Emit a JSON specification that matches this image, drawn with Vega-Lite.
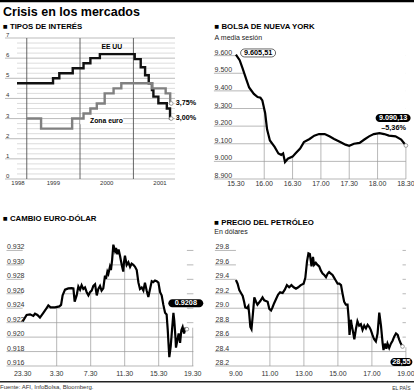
{
  "$schema": "https://vega.github.io/schema/vega-lite/v6.json",
  "autosize": {"type": "none"},
  "padding": {"left": 17, "top": 38, "right": 397, "bottom": 354},
  "background": "white",
  "columns": 2,
  "bounds": "flush",
  "spacing": {"row": 57, "column": 41.9},
  "config": {
    "view": {"stroke": null},
    "font": "Liberation Sans",
    "axis": {"disable": true},
    "title": {"font": "Liberation Sans", "fontSize": 7.8, "fontWeight": "bold", "color": "#000", "anchor": "start", "frame": "group", "subtitleFont": "Liberation Sans", "subtitleFontSize": 7, "subtitleColor": "#222"},
    "text": {"font": "Liberation Sans"}
  },
  "datasets": {
    "tipos": [
      {"serie": "EE UU", "fecha": "1998-10-26", "tipo": 4.75},
      {"serie": "EE UU", "fecha": "1999-06-30", "tipo": 5.0},
      {"serie": "EE UU", "fecha": "1999-08-12", "tipo": 5.25},
      {"serie": "EE UU", "fecha": "1999-11-12", "tipo": 5.5},
      {"serie": "EE UU", "fecha": "2000-01-25", "tipo": 5.75},
      {"serie": "EE UU", "fecha": "2000-03-12", "tipo": 6.0},
      {"serie": "EE UU", "fecha": "2000-05-16", "tipo": 6.2},
      {"serie": "EE UU", "fecha": "2001-01-10", "tipo": 5.95},
      {"serie": "EE UU", "fecha": "2001-02-20", "tipo": 5.55},
      {"serie": "EE UU", "fecha": "2001-03-22", "tipo": 5.15},
      {"serie": "EE UU", "fecha": "2001-04-16", "tipo": 4.75},
      {"serie": "EE UU", "fecha": "2001-05-08", "tipo": 4.42},
      {"serie": "EE UU", "fecha": "2001-05-18", "tipo": 4.09},
      {"serie": "EE UU", "fecha": "2001-06-21", "tipo": 3.76},
      {"serie": "EE UU", "fecha": "2001-08-18", "tipo": 3.5},
      {"serie": "EE UU", "fecha": "2001-09-09", "tipo": 3.0},
      {"serie": "EE UU", "fecha": "2001-09-17", "tipo": 3.0},
      {"serie": "Zona euro", "fecha": "1999-01-01", "tipo": 3.0},
      {"serie": "Zona euro", "fecha": "1999-04-09", "tipo": 2.5},
      {"serie": "Zona euro", "fecha": "1999-11-08", "tipo": 3.0},
      {"serie": "Zona euro", "fecha": "2000-01-25", "tipo": 3.25},
      {"serie": "Zona euro", "fecha": "2000-03-12", "tipo": 3.5},
      {"serie": "Zona euro", "fecha": "2000-04-25", "tipo": 3.75},
      {"serie": "Zona euro", "fecha": "2000-06-18", "tipo": 4.25},
      {"serie": "Zona euro", "fecha": "2000-08-18", "tipo": 4.5},
      {"serie": "Zona euro", "fecha": "2000-10-10", "tipo": 4.75},
      {"serie": "Zona euro", "fecha": "2001-05-10", "tipo": 4.5},
      {"serie": "Zona euro", "fecha": "2001-08-10", "tipo": 4.25},
      {"serie": "Zona euro", "fecha": "2001-09-10", "tipo": 3.75},
      {"serie": "Zona euro", "fecha": "2001-09-17", "tipo": 3.75}
    ],
    "anios": [{"fecha": "1999-01-01"}, {"fecha": "2000-01-01"}, {"fecha": "2001-01-01"}],
    "anios_etiquetas": [{"fecha": "1998-11-02"}, {"fecha": "1999-07-02"}, {"fecha": "2000-07-02"}, {"fecha": "2001-07-02"}],
    "tipos_rejilla": [
      {"tipo": 0}, {"tipo": 0.25}, {"tipo": 0.5}, {"tipo": 0.75}, {"tipo": 1}, {"tipo": 1.25}, {"tipo": 1.5}, {"tipo": 1.75},
      {"tipo": 2}, {"tipo": 2.25}, {"tipo": 2.5}, {"tipo": 2.75}, {"tipo": 3}, {"tipo": 3.25}, {"tipo": 3.5}, {"tipo": 3.75},
      {"tipo": 4}, {"tipo": 4.25}, {"tipo": 4.5}, {"tipo": 4.75}, {"tipo": 5}, {"tipo": 5.25}, {"tipo": 5.5}, {"tipo": 5.75},
      {"tipo": 6}, {"tipo": 6.25}, {"tipo": 6.5}, {"tipo": 6.75}, {"tipo": 7}
    ],
    "tipos_notas": [
      {"fecha": "2001-09-17", "tipo": 3.75, "texto": "3,75%"},
      {"fecha": "2001-09-17", "tipo": 3.0, "texto": "3,00%"},
      {"fecha": "2000-05-16", "tipo": 6.2, "texto": "EE UU"},
      {"fecha": "2000-01-25", "tipo": 3.25, "texto": "Zona euro"}
    ],
    "bolsa": [
      {"hora": "2001-09-17T15:30", "valor": 9605.51},
      {"hora": "2001-09-17T15:34", "valor": 9574},
      {"hora": "2001-09-17T15:37", "valor": 9529},
      {"hora": "2001-09-17T15:41", "valor": 9465},
      {"hora": "2001-09-17T15:44", "valor": 9419},
      {"hora": "2001-09-17T15:49", "valor": 9383},
      {"hora": "2001-09-17T15:53", "valor": 9365},
      {"hora": "2001-09-17T15:56", "valor": 9361},
      {"hora": "2001-09-17T15:58", "valor": 9346},
      {"hora": "2001-09-17T16:01", "valor": 9273},
      {"hora": "2001-09-17T16:03", "valor": 9182},
      {"hora": "2001-09-17T16:06", "valor": 9119},
      {"hora": "2001-09-17T16:11", "valor": 9082},
      {"hora": "2001-09-17T16:15", "valor": 9045},
      {"hora": "2001-09-17T16:18", "valor": 9037},
      {"hora": "2001-09-17T16:20", "valor": 9045},
      {"hora": "2001-09-17T16:22", "valor": 8996},
      {"hora": "2001-09-17T16:25", "valor": 9015},
      {"hora": "2001-09-17T16:30", "valor": 9027},
      {"hora": "2001-09-17T16:33", "valor": 9045},
      {"hora": "2001-09-17T16:38", "valor": 9073},
      {"hora": "2001-09-17T16:42", "valor": 9109},
      {"hora": "2001-09-17T16:48", "valor": 9127},
      {"hora": "2001-09-17T16:53", "valor": 9146},
      {"hora": "2001-09-17T16:58", "valor": 9155},
      {"hora": "2001-09-17T17:04", "valor": 9155},
      {"hora": "2001-09-17T17:09", "valor": 9142},
      {"hora": "2001-09-17T17:14", "valor": 9127},
      {"hora": "2001-09-17T17:21", "valor": 9109},
      {"hora": "2001-09-17T17:26", "valor": 9095},
      {"hora": "2001-09-17T17:30", "valor": 9088},
      {"hora": "2001-09-17T17:35", "valor": 9100},
      {"hora": "2001-09-17T17:41", "valor": 9105},
      {"hora": "2001-09-17T17:46", "valor": 9124},
      {"hora": "2001-09-17T17:51", "valor": 9142},
      {"hora": "2001-09-17T17:56", "valor": 9155},
      {"hora": "2001-09-17T18:02", "valor": 9160},
      {"hora": "2001-09-17T18:07", "valor": 9155},
      {"hora": "2001-09-17T18:12", "valor": 9146},
      {"hora": "2001-09-17T18:19", "valor": 9142},
      {"hora": "2001-09-17T18:25", "valor": 9124},
      {"hora": "2001-09-17T18:30", "valor": 9090.13}
    ],
    "bolsa_rejilla": [
      {"valor": 8900, "etiqueta": "8.900"}, {"valor": 9000, "etiqueta": "9.000"}, {"valor": 9100, "etiqueta": "9.100"}, {"valor": 9200, "etiqueta": "9.200"},
      {"valor": 9300, "etiqueta": "9.300"}, {"valor": 9400, "etiqueta": "9.400"}, {"valor": 9500, "etiqueta": "9.500"}, {"valor": 9600, "etiqueta": "9.600"}
    ],
    "bolsa_horas": [
      {"hora": "2001-09-17T15:30"}, {"hora": "2001-09-17T16:00"}, {"hora": "2001-09-17T16:30"}, {"hora": "2001-09-17T17:00"},
      {"hora": "2001-09-17T17:30"}, {"hora": "2001-09-17T18:00"}, {"hora": "2001-09-17T18:30"}
    ],
    "bolsa_marcas": [
      {"hora": "2001-09-17T16:00", "valor": 9300},
      {"hora": "2001-09-17T16:30", "valor": 9027},
      {"hora": "2001-09-17T17:00", "valor": 9155},
      {"hora": "2001-09-17T17:30", "valor": 9088},
      {"hora": "2001-09-17T18:00", "valor": 9160},
      {"hora": "2001-09-17T18:30", "valor": 9090.13}
    ],
    "bolsa_notas": [
      {"hora": "2001-09-17T15:30", "valor": 9605.51, "texto": "9.605,51"},
      {"hora": "2001-09-17T18:30", "valor": 9090.13, "texto": "9.090,13"},
      {"hora": "2001-09-17T18:30", "valor": 9090.13, "texto": "–5,36%"}
    ],
    "cambio": [
      {"hora": "2001-09-16T23:30", "cambio": 0.92218},
      {"hora": "2001-09-16T23:58", "cambio": 0.92307},
      {"hora": "2001-09-17T00:22", "cambio": 0.92315},
      {"hora": "2001-09-17T00:45", "cambio": 0.92293},
      {"hora": "2001-09-17T00:57", "cambio": 0.92324},
      {"hora": "2001-09-17T01:14", "cambio": 0.92307},
      {"hora": "2001-09-17T01:32", "cambio": 0.92271},
      {"hora": "2001-09-17T01:56", "cambio": 0.92337},
      {"hora": "2001-09-17T02:19", "cambio": 0.92403},
      {"hora": "2001-09-17T02:31", "cambio": 0.92438},
      {"hora": "2001-09-17T02:47", "cambio": 0.92412},
      {"hora": "2001-09-17T03:18", "cambio": 0.92412},
      {"hora": "2001-09-17T03:49", "cambio": 0.92425},
      {"hora": "2001-09-17T04:01", "cambio": 0.92446},
      {"hora": "2001-09-17T04:12", "cambio": 0.92578},
      {"hora": "2001-09-17T04:29", "cambio": 0.92657},
      {"hora": "2001-09-17T04:52", "cambio": 0.92675},
      {"hora": "2001-09-17T05:16", "cambio": 0.92679},
      {"hora": "2001-09-17T05:28", "cambio": 0.92675},
      {"hora": "2001-09-17T05:37", "cambio": 0.92491},
      {"hora": "2001-09-17T05:51", "cambio": 0.92578},
      {"hora": "2001-09-17T06:03", "cambio": 0.92701},
      {"hora": "2001-09-17T06:15", "cambio": 0.92657},
      {"hora": "2001-09-17T06:26", "cambio": 0.92718},
      {"hora": "2001-09-17T06:38", "cambio": 0.92666},
      {"hora": "2001-09-17T06:50", "cambio": 0.92688},
      {"hora": "2001-09-17T07:02", "cambio": 0.92622},
      {"hora": "2001-09-17T07:14", "cambio": 0.92578},
      {"hora": "2001-09-17T07:25", "cambio": 0.92622},
      {"hora": "2001-09-17T07:37", "cambio": 0.92644},
      {"hora": "2001-09-17T07:49", "cambio": 0.92709},
      {"hora": "2001-09-17T08:01", "cambio": 0.92732},
      {"hora": "2001-09-17T08:13", "cambio": 0.92578},
      {"hora": "2001-09-17T08:24", "cambio": 0.92666},
      {"hora": "2001-09-17T08:36", "cambio": 0.92709},
      {"hora": "2001-09-17T08:47", "cambio": 0.92644},
      {"hora": "2001-09-17T08:59", "cambio": 0.92675},
      {"hora": "2001-09-17T09:11", "cambio": 0.9285},
      {"hora": "2001-09-17T09:18", "cambio": 0.92806},
      {"hora": "2001-09-17T09:28", "cambio": 0.92907},
      {"hora": "2001-09-17T09:35", "cambio": 0.92876},
      {"hora": "2001-09-17T09:46", "cambio": 0.92973},
      {"hora": "2001-09-17T09:53", "cambio": 0.92929},
      {"hora": "2001-09-17T10:01", "cambio": 0.93061},
      {"hora": "2001-09-17T10:10", "cambio": 0.9328},
      {"hora": "2001-09-17T10:22", "cambio": 0.93192},
      {"hora": "2001-09-17T10:29", "cambio": 0.93236},
      {"hora": "2001-09-17T10:38", "cambio": 0.93148},
      {"hora": "2001-09-17T10:47", "cambio": 0.93214},
      {"hora": "2001-09-17T10:57", "cambio": 0.93126},
      {"hora": "2001-09-17T11:09", "cambio": 0.93},
      {"hora": "2001-09-17T11:20", "cambio": 0.92907},
      {"hora": "2001-09-17T11:25", "cambio": 0.93038},
      {"hora": "2001-09-17T11:32", "cambio": 0.93126},
      {"hora": "2001-09-17T11:44", "cambio": 0.93},
      {"hora": "2001-09-17T11:56", "cambio": 0.93038},
      {"hora": "2001-09-17T12:08", "cambio": 0.92973},
      {"hora": "2001-09-17T12:19", "cambio": 0.93017},
      {"hora": "2001-09-17T12:31", "cambio": 0.93},
      {"hora": "2001-09-17T12:43", "cambio": 0.92973},
      {"hora": "2001-09-17T12:55", "cambio": 0.92929},
      {"hora": "2001-09-17T13:07", "cambio": 0.92754},
      {"hora": "2001-09-17T13:18", "cambio": 0.92666},
      {"hora": "2001-09-17T13:30", "cambio": 0.92688},
      {"hora": "2001-09-17T13:42", "cambio": 0.92644},
      {"hora": "2001-09-17T13:53", "cambio": 0.92754},
      {"hora": "2001-09-17T14:05", "cambio": 0.92644},
      {"hora": "2001-09-17T14:17", "cambio": 0.92556},
      {"hora": "2001-09-17T14:29", "cambio": 0.92666},
      {"hora": "2001-09-17T14:41", "cambio": 0.92775},
      {"hora": "2001-09-17T14:52", "cambio": 0.92762},
      {"hora": "2001-09-17T15:04", "cambio": 0.92784},
      {"hora": "2001-09-17T15:16", "cambio": 0.92775},
      {"hora": "2001-09-17T15:28", "cambio": 0.92754},
      {"hora": "2001-09-17T15:40", "cambio": 0.92622},
      {"hora": "2001-09-17T15:51", "cambio": 0.92578},
      {"hora": "2001-09-17T16:03", "cambio": 0.92446},
      {"hora": "2001-09-17T16:15", "cambio": 0.92337},
      {"hora": "2001-09-17T16:26", "cambio": 0.92315},
      {"hora": "2001-09-17T16:34", "cambio": 0.92096},
      {"hora": "2001-09-17T16:41", "cambio": 0.91854},
      {"hora": "2001-09-17T16:45", "cambio": 0.91723},
      {"hora": "2001-09-17T16:55", "cambio": 0.91876},
      {"hora": "2001-09-17T17:04", "cambio": 0.92096},
      {"hora": "2001-09-17T17:14", "cambio": 0.92337},
      {"hora": "2001-09-17T17:20", "cambio": 0.92227},
      {"hora": "2001-09-17T17:28", "cambio": 0.92008},
      {"hora": "2001-09-17T17:32", "cambio": 0.91854},
      {"hora": "2001-09-17T17:42", "cambio": 0.9196},
      {"hora": "2001-09-17T17:51", "cambio": 0.92051},
      {"hora": "2001-09-17T18:01", "cambio": 0.9192},
      {"hora": "2001-09-17T18:10", "cambio": 0.92096},
      {"hora": "2001-09-17T18:19", "cambio": 0.9214},
      {"hora": "2001-09-17T18:29", "cambio": 0.92051},
      {"hora": "2001-09-17T18:38", "cambio": 0.92117},
      {"hora": "2001-09-17T18:49", "cambio": 0.9211}
    ],
    "cambio_rejilla": [
      {"cambio": 0.916}, {"cambio": 0.918}, {"cambio": 0.92}, {"cambio": 0.922}, {"cambio": 0.924},
      {"cambio": 0.926}, {"cambio": 0.928}, {"cambio": 0.93}, {"cambio": 0.932}
    ],
    "cambio_horas": [
      {"hora": "2001-09-16T23:30"}, {"hora": "2001-09-17T03:30"}, {"hora": "2001-09-17T07:30"},
      {"hora": "2001-09-17T11:30"}, {"hora": "2001-09-17T15:30"}, {"hora": "2001-09-17T19:30"}
    ],
    "cambio_marcas": [
      {"hora": "2001-09-17T03:30", "cambio": 0.9242},
      {"hora": "2001-09-17T07:30", "cambio": 0.9263},
      {"hora": "2001-09-17T11:30", "cambio": 0.9305},
      {"hora": "2001-09-17T15:30", "cambio": 0.9275},
      {"hora": "2001-09-17T19:30", "cambio": 0.9213}
    ],
    "cambio_notas": [
      {"hora": "2001-09-17T18:49", "cambio": 0.9211, "texto": "0.9208"}
    ],
    "petroleo": [
      {"hora": "2001-09-17T09:00", "precio": 29.39},
      {"hora": "2001-09-17T09:06", "precio": 29.34},
      {"hora": "2001-09-17T09:12", "precio": 29.25},
      {"hora": "2001-09-17T09:18", "precio": 29.21},
      {"hora": "2001-09-17T09:24", "precio": 29.17},
      {"hora": "2001-09-17T09:29", "precio": 29.09},
      {"hora": "2001-09-17T09:33", "precio": 29.01},
      {"hora": "2001-09-17T09:39", "precio": 29.0},
      {"hora": "2001-09-17T09:44", "precio": 29.03},
      {"hora": "2001-09-17T09:47", "precio": 28.92},
      {"hora": "2001-09-17T09:51", "precio": 28.74},
      {"hora": "2001-09-17T09:55", "precio": 28.71},
      {"hora": "2001-09-17T10:00", "precio": 28.92},
      {"hora": "2001-09-17T10:05", "precio": 29.15},
      {"hora": "2001-09-17T10:11", "precio": 29.09},
      {"hora": "2001-09-17T10:16", "precio": 29.05},
      {"hora": "2001-09-17T10:26", "precio": 29.1},
      {"hora": "2001-09-17T10:34", "precio": 29.15},
      {"hora": "2001-09-17T10:40", "precio": 29.11},
      {"hora": "2001-09-17T10:46", "precio": 29.1},
      {"hora": "2001-09-17T10:52", "precio": 29.09},
      {"hora": "2001-09-17T10:58", "precio": 28.99},
      {"hora": "2001-09-17T11:04", "precio": 28.97},
      {"hora": "2001-09-17T11:09", "precio": 29.01},
      {"hora": "2001-09-17T11:15", "precio": 29.07},
      {"hora": "2001-09-17T11:21", "precio": 29.12},
      {"hora": "2001-09-17T11:29", "precio": 29.19},
      {"hora": "2001-09-17T11:36", "precio": 29.22},
      {"hora": "2001-09-17T11:45", "precio": 29.21},
      {"hora": "2001-09-17T11:53", "precio": 29.26},
      {"hora": "2001-09-17T12:00", "precio": 29.32},
      {"hora": "2001-09-17T12:08", "precio": 29.29},
      {"hora": "2001-09-17T12:16", "precio": 29.32},
      {"hora": "2001-09-17T12:24", "precio": 29.29},
      {"hora": "2001-09-17T12:32", "precio": 29.27},
      {"hora": "2001-09-17T12:40", "precio": 29.29},
      {"hora": "2001-09-17T12:49", "precio": 29.32},
      {"hora": "2001-09-17T12:59", "precio": 29.34},
      {"hora": "2001-09-17T13:05", "precio": 29.42},
      {"hora": "2001-09-17T13:11", "precio": 29.65},
      {"hora": "2001-09-17T13:16", "precio": 29.76},
      {"hora": "2001-09-17T13:21", "precio": 29.75},
      {"hora": "2001-09-17T13:27", "precio": 29.58},
      {"hora": "2001-09-17T13:32", "precio": 29.71},
      {"hora": "2001-09-17T13:36", "precio": 29.6},
      {"hora": "2001-09-17T13:42", "precio": 29.63},
      {"hora": "2001-09-17T13:48", "precio": 29.6},
      {"hora": "2001-09-17T13:54", "precio": 29.58},
      {"hora": "2001-09-17T14:00", "precio": 29.52},
      {"hora": "2001-09-17T14:06", "precio": 29.48},
      {"hora": "2001-09-17T14:12", "precio": 29.46},
      {"hora": "2001-09-17T14:18", "precio": 29.43},
      {"hora": "2001-09-17T14:24", "precio": 29.48},
      {"hora": "2001-09-17T14:29", "precio": 29.5},
      {"hora": "2001-09-17T14:35", "precio": 29.48},
      {"hora": "2001-09-17T14:41", "precio": 29.46},
      {"hora": "2001-09-17T14:47", "precio": 29.42},
      {"hora": "2001-09-17T14:53", "precio": 29.38},
      {"hora": "2001-09-17T14:59", "precio": 29.34},
      {"hora": "2001-09-17T15:05", "precio": 29.34},
      {"hora": "2001-09-17T15:11", "precio": 29.32},
      {"hora": "2001-09-17T15:16", "precio": 29.21},
      {"hora": "2001-09-17T15:22", "precio": 29.09},
      {"hora": "2001-09-17T15:28", "precio": 29.05},
      {"hora": "2001-09-17T15:34", "precio": 29.05},
      {"hora": "2001-09-17T15:38", "precio": 28.86},
      {"hora": "2001-09-17T15:41", "precio": 28.63},
      {"hora": "2001-09-17T15:46", "precio": 28.84},
      {"hora": "2001-09-17T15:49", "precio": 28.76},
      {"hora": "2001-09-17T15:53", "precio": 28.68},
      {"hora": "2001-09-17T15:58", "precio": 28.57},
      {"hora": "2001-09-17T16:04", "precio": 28.72},
      {"hora": "2001-09-17T16:09", "precio": 28.82},
      {"hora": "2001-09-17T16:15", "precio": 28.76},
      {"hora": "2001-09-17T16:21", "precio": 28.78},
      {"hora": "2001-09-17T16:27", "precio": 28.7},
      {"hora": "2001-09-17T16:33", "precio": 28.76},
      {"hora": "2001-09-17T16:39", "precio": 28.72},
      {"hora": "2001-09-17T16:45", "precio": 28.77},
      {"hora": "2001-09-17T16:51", "precio": 28.74},
      {"hora": "2001-09-17T16:56", "precio": 28.7},
      {"hora": "2001-09-17T17:02", "precio": 28.63},
      {"hora": "2001-09-17T17:08", "precio": 28.57},
      {"hora": "2001-09-17T17:14", "precio": 28.54},
      {"hora": "2001-09-17T17:20", "precio": 28.65},
      {"hora": "2001-09-17T17:26", "precio": 28.94},
      {"hora": "2001-09-17T17:32", "precio": 28.76},
      {"hora": "2001-09-17T17:38", "precio": 28.51},
      {"hora": "2001-09-17T17:41", "precio": 28.42},
      {"hora": "2001-09-17T17:46", "precio": 28.51},
      {"hora": "2001-09-17T17:51", "precio": 28.44},
      {"hora": "2001-09-17T17:55", "precio": 28.51},
      {"hora": "2001-09-17T18:01", "precio": 28.45},
      {"hora": "2001-09-17T18:07", "precio": 28.51},
      {"hora": "2001-09-17T18:13", "precio": 28.55},
      {"hora": "2001-09-17T18:19", "precio": 28.61},
      {"hora": "2001-09-17T18:25", "precio": 28.65},
      {"hora": "2001-09-17T18:31", "precio": 28.63},
      {"hora": "2001-09-17T18:36", "precio": 28.57},
      {"hora": "2001-09-17T18:42", "precio": 28.51},
      {"hora": "2001-09-17T18:48", "precio": 28.47}
    ],
    "petroleo_rejilla": [
      {"precio": 28.2}, {"precio": 28.4}, {"precio": 28.6}, {"precio": 28.8}, {"precio": 29.0},
      {"precio": 29.2}, {"precio": 29.4}, {"precio": 29.6}, {"precio": 29.8}
    ],
    "petroleo_horas": [
      {"hora": "2001-09-17T09:00"}, {"hora": "2001-09-17T11:00"}, {"hora": "2001-09-17T13:00"},
      {"hora": "2001-09-17T15:00"}, {"hora": "2001-09-17T17:00"}, {"hora": "2001-09-17T19:00"}
    ],
    "petroleo_marcas": [
      {"hora": "2001-09-17T11:00", "precio": 28.98},
      {"hora": "2001-09-17T13:00", "precio": 29.35},
      {"hora": "2001-09-17T15:00", "precio": 29.34},
      {"hora": "2001-09-17T17:00", "precio": 28.65},
      {"hora": "2001-09-17T19:00", "precio": 28.46}
    ],
    "petroleo_notas": [
      {"hora": "2001-09-17T18:48", "precio": 28.47, "texto": "28,55"}
    ],
    "pie_izquierda": [{"texto": "Fuente: AFI, InfoBolsa, Bloomberg."}],
    "pie_derecha": [{"texto": "EL PAÍS"}]
  },
  "concat": [
    {
      "width": 158,
      "height": 141,
      "title": {"text": "Crisis en los mercados", "fontSize": 12.5, "subtitle": "■ TIPOS DE INTERÉS", "subtitleFontWeight": "bold", "subtitleFontSize": 7.8, "subtitleColor": "#000", "subtitlePadding": 4.5, "dx": -14, "offset": -31.5},
      "layer": [
        {
          "data": {"name": "tipos_rejilla"},
          "transform": [{"filter": "datum.tipo % 1 !== 0"}],
          "mark": {"type": "rule", "color": "#c4c4c4", "strokeWidth": 0.6},
          "encoding": {
            "x": {"datum": {"year": 1998, "month": 10, "date": 26}, "type": "temporal", "axis": null,
              "scale": {"domain": [{"year": 1998, "month": 10, "date": 26}, {"year": 2001, "month": 10, "date": 13}]}},
            "x2": {"datum": {"year": 2001, "month": 10, "date": 13}},
            "y": {"field": "tipo", "type": "quantitative", "axis": null, "scale": {"domain": [0, 7]}}
          }
        },
        {
          "data": {"name": "tipos_rejilla"},
          "transform": [{"filter": "datum.tipo % 1 === 0"}],
          "mark": {"type": "rule", "color": "#8f8f8f", "strokeWidth": 0.6, "xOffset": -12},
          "encoding": {
            "x": {"datum": {"year": 1998, "month": 10, "date": 26}, "type": "temporal"},
            "x2": {"datum": {"year": 2001, "month": 10, "date": 13}},
            "y": {"field": "tipo", "type": "quantitative"}
          }
        },
        {
          "data": {"name": "anios"},
          "mark": {"type": "rule", "color": "#555", "strokeWidth": 0.9},
          "encoding": {
            "x": {"field": "fecha", "type": "temporal"}
          }
        },
        {
          "data": {"name": "tipos_notas"},
          "transform": [{"filter": "datum.texto === 'Zona euro'"}],
          "mark": {"type": "point", "shape": "M-1,-0.163L1,-0.163L1,0.163L-1,0.163Z", "filled": true, "fill": "white", "stroke": null, "opacity": 1, "size": 1849, "xOffset": 18.2, "yOffset": 7.2},
          "encoding": {
            "x": {"field": "fecha", "type": "temporal"},
            "y": {"field": "tipo", "type": "quantitative"}
          }
        },
        {
          "data": {"name": "tipos"},
          "mark": {"type": "line", "interpolate": "step-after", "strokeWidth": 2.4},
          "encoding": {
            "x": {"field": "fecha", "type": "temporal"},
            "y": {"field": "tipo", "type": "quantitative"},
            "color": {"field": "serie", "type": "nominal", "scale": {"domain": ["EE UU", "Zona euro"], "range": ["#111111", "#808080"]}, "legend": null}
          }
        },
        {
          "data": {"name": "tipos_notas"},
          "transform": [{"filter": "datum.texto === '3,75%' || datum.texto === '3,00%'"}],
          "mark": {"type": "point", "filled": true, "fill": "white", "stroke": "#888", "strokeWidth": 0.8, "size": 14, "opacity": 1},
          "encoding": {
            "x": {"field": "fecha", "type": "temporal"},
            "y": {"field": "tipo", "type": "quantitative"}
          }
        },
        {
          "data": {"name": "tipos_notas"},
          "transform": [{"filter": "datum.texto === '3,75%' || datum.texto === '3,00%'"}],
          "mark": {"type": "text", "align": "left", "baseline": "middle", "fontWeight": "bold", "fontSize": 7.2, "dx": 4.6, "dy": -0.6, "color": "#000"},
          "encoding": {
            "x": {"field": "fecha", "type": "temporal"},
            "y": {"field": "tipo", "type": "quantitative"},
            "text": {"field": "texto"}
          }
        },
        {
          "data": {"name": "tipos_notas"},
          "transform": [{"filter": "datum.texto === 'EE UU'"}],
          "mark": {"type": "text", "align": "center", "baseline": "middle", "fontWeight": "bold", "fontSize": 6.8, "dx": 11.9, "dy": -7.4, "color": "#000"},
          "encoding": {
            "x": {"field": "fecha", "type": "temporal"},
            "y": {"field": "tipo", "type": "quantitative"},
            "text": {"field": "texto"}
          }
        },
        {
          "data": {"name": "tipos_notas"},
          "transform": [{"filter": "datum.texto === 'Zona euro'"}],
          "mark": {"type": "text", "align": "left", "baseline": "middle", "fontWeight": "bold", "fontSize": 6.8, "dx": 6.5, "dy": 7.5, "color": "#000"},
          "encoding": {
            "x": {"field": "fecha", "type": "temporal"},
            "y": {"field": "tipo", "type": "quantitative"},
            "text": {"field": "texto"}
          }
        },
        {
          "data": {"name": "tipos_rejilla"},
          "transform": [{"filter": "datum.tipo % 1 === 0"}],
          "mark": {"type": "text", "align": "left", "baseline": "bottom", "dx": -11, "fontSize": 6, "color": "#333"},
          "encoding": {
            "x": {"datum": {"year": 1998, "month": 10, "date": 26}, "type": "temporal"},
            "y": {"field": "tipo", "type": "quantitative"},
            "text": {"field": "tipo", "type": "quantitative", "format": "d"}
          }
        },
        {
          "data": {"name": "anios_etiquetas"},
          "mark": {"type": "text", "align": "center", "baseline": "top", "dy": 1.1, "fontSize": 6, "color": "#333"},
          "encoding": {
            "x": {"field": "fecha", "type": "temporal"},
            "y": {"datum": 0, "type": "quantitative"},
            "text": {"field": "fecha", "type": "temporal", "format": "%Y"}
          }
        },
        {
          "data": {"values": [{}]},
          "mark": {"type": "rule", "color": "#000", "strokeWidth": 2.5},
          "encoding": {
            "x": {"datum": {"year": 1998, "month": 6, "date": 1}, "type": "temporal"},
            "x2": {"datum": {"year": 2006, "month": 6, "date": 1}},
            "y": {"datum": 8.84, "type": "quantitative"}
          }
        }
      ]
    },
    {
      "width": 170,
      "height": 141,
      "title": {"text": "■ BOLSA DE NUEVA YORK", "subtitle": "A media sesión", "subtitlePadding": 3.3, "dx": -21.3, "offset": -2.7},
      "layer": [
        {
          "data": {"name": "bolsa_rejilla"},
          "mark": {"type": "rule", "color": "#999999", "strokeWidth": 0.7, "xOffset": -22},
          "encoding": {
            "x": {"datum": {"year": 2001, "month": 9, "date": 17, "hours": 15, "minutes": 30}, "type": "temporal", "axis": null,
              "scale": {"domain": [{"year": 2001, "month": 9, "date": 17, "hours": 15, "minutes": 30}, {"year": 2001, "month": 9, "date": 17, "hours": 18, "minutes": 30}]}},
            "x2": {"datum": {"year": 2001, "month": 9, "date": 17, "hours": 18, "minutes": 30}},
            "y": {"field": "valor", "type": "quantitative", "axis": null, "scale": {"domain": [8900, 9666]}}
          }
        },
        {
          "data": {"name": "bolsa"},
          "mark": {"type": "area", "color": "white", "fill": "white", "opacity": 1, "fillOpacity": 1, "orient": "vertical"},
          "encoding": {
            "x": {"field": "hora", "type": "temporal"},
            "y": {"field": "valor", "type": "quantitative", "stack": null},
            "y2": {"datum": 9666}
          }
        },
        {
          "data": {"name": "bolsa_marcas"},
          "mark": {"type": "rule", "color": "#999999", "strokeWidth": 0.7},
          "encoding": {
            "x": {"field": "hora", "type": "temporal"},
            "y": {"field": "valor", "type": "quantitative"},
            "y2": {"datum": 8900}
          }
        },
        {
          "data": {"name": "bolsa"},
          "mark": {"type": "line", "color": "#000", "strokeWidth": 2.2},
          "encoding": {
            "x": {"field": "hora", "type": "temporal"},
            "y": {"field": "valor", "type": "quantitative"}
          }
        },
        {
          "data": {"name": "bolsa_notas"},
          "transform": [{"filter": "datum.texto === '9.090,13'"}],
          "mark": {"type": "point", "filled": true, "fill": "white", "stroke": "#888", "strokeWidth": 0.8, "size": 14, "opacity": 1},
          "encoding": {
            "x": {"field": "hora", "type": "temporal"},
            "y": {"field": "valor", "type": "quantitative"}
          }
        },
        {
          "data": {"name": "bolsa_notas"},
          "transform": [{"filter": "datum.texto === '9.605,51'"}],
          "mark": {"type": "point", "shape": "M-0.771,-0.229L0.771,-0.229A0.229,0.229,0,0,1,0.771,0.229L-0.771,0.229A0.229,0.229,0,0,1,-0.771,-0.229Z", "filled": true, "fill": "white", "stroke": "#000", "strokeWidth": 0.6, "opacity": 1, "size": 1225, "xOffset": 22.2, "yOffset": -1.7},
          "encoding": {
            "x": {"field": "hora", "type": "temporal"},
            "y": {"field": "valor", "type": "quantitative"}
          }
        },
        {
          "data": {"name": "bolsa_notas"},
          "transform": [{"filter": "datum.texto === '9.090,13'"}],
          "mark": {"type": "point", "shape": "M-0.771,-0.229L0.771,-0.229A0.229,0.229,0,0,1,0.771,0.229L-0.771,0.229A0.229,0.229,0,0,1,-0.771,-0.229Z", "filled": true, "fill": "#000", "stroke": null, "opacity": 1, "size": 1225, "xOffset": -12.8, "yOffset": -27.5},
          "encoding": {
            "x": {"field": "hora", "type": "temporal"},
            "y": {"field": "valor", "type": "quantitative"}
          }
        },
        {
          "data": {"name": "bolsa_notas"},
          "transform": [{"filter": "datum.texto === '9.605,51'"}],
          "mark": {"type": "text", "align": "center", "baseline": "middle", "fontWeight": "bold", "fontSize": 7.3, "dx": 22.2, "dy": -1.7, "color": "#000"},
          "encoding": {
            "x": {"field": "hora", "type": "temporal"},
            "y": {"field": "valor", "type": "quantitative"},
            "text": {"field": "texto"}
          }
        },
        {
          "data": {"name": "bolsa_notas"},
          "transform": [{"filter": "datum.texto === '9.090,13'"}],
          "mark": {"type": "text", "align": "center", "baseline": "middle", "fontWeight": "bold", "fontSize": 7.3, "dx": -12.8, "dy": -27.5, "color": "#fff"},
          "encoding": {
            "x": {"field": "hora", "type": "temporal"},
            "y": {"field": "valor", "type": "quantitative"},
            "text": {"field": "texto"}
          }
        },
        {
          "data": {"name": "bolsa_notas"},
          "transform": [{"filter": "datum.texto === '–5,36%'"}],
          "mark": {"type": "text", "align": "center", "baseline": "middle", "fontWeight": "bold", "fontSize": 7.3, "dx": -12.3, "dy": -17.5, "color": "#000"},
          "encoding": {
            "x": {"field": "hora", "type": "temporal"},
            "y": {"field": "valor", "type": "quantitative"},
            "text": {"field": "texto"}
          }
        },
        {
          "data": {"name": "bolsa_rejilla"},
          "mark": {"type": "text", "align": "left", "baseline": "bottom", "dx": -21.3, "fontSize": 7, "color": "#333"},
          "encoding": {
            "x": {"datum": {"year": 2001, "month": 9, "date": 17, "hours": 15, "minutes": 30}, "type": "temporal"},
            "y": {"field": "valor", "type": "quantitative"},
            "text": {"field": "etiqueta"}
          }
        },
        {
          "data": {"name": "bolsa_horas"},
          "mark": {"type": "text", "align": "center", "baseline": "top", "dy": 0.7, "fontSize": 7, "color": "#333"},
          "encoding": {
            "x": {"field": "hora", "type": "temporal"},
            "y": {"datum": 8900, "type": "quantitative"},
            "text": {"field": "hora", "type": "temporal", "format": "%-H.%M"}
          }
        }
      ]
    },
    {
      "width": 176.4,
      "height": 130,
      "title": {"text": "■ CAMBIO EURO-DÓLAR", "dx": -14, "offset": 13.7},
      "layer": [
        {
          "data": {"name": "cambio_rejilla"},
          "mark": {"type": "rule", "color": "#999999", "strokeWidth": 0.7, "xOffset": -10.5},
          "encoding": {
            "x": {"datum": {"year": 2001, "month": 9, "date": 16, "hours": 22, "minutes": 50}, "type": "temporal", "axis": null,
              "scale": {"domain": [{"year": 2001, "month": 9, "date": 16, "hours": 22, "minutes": 50}, {"year": 2001, "month": 9, "date": 17, "hours": 19, "minutes": 35}]}},
            "x2": {"datum": {"year": 2001, "month": 9, "date": 17, "hours": 19, "minutes": 35}},
            "y": {"field": "cambio", "type": "quantitative", "axis": null, "scale": {"domain": [0.916, 0.9331]}}
          }
        },
        {
          "data": {"name": "cambio"},
          "mark": {"type": "area", "color": "white", "fill": "white", "opacity": 1, "fillOpacity": 1, "orient": "vertical"},
          "encoding": {
            "x": {"field": "hora", "type": "temporal"},
            "y": {"field": "cambio", "type": "quantitative", "stack": null},
            "y2": {"datum": 0.9331}
          }
        },
        {
          "data": {"name": "cambio_marcas"},
          "mark": {"type": "rule", "color": "#999999", "strokeWidth": 0.7},
          "encoding": {
            "x": {"field": "hora", "type": "temporal"},
            "y": {"field": "cambio", "type": "quantitative"},
            "y2": {"datum": 0.916}
          }
        },
        {
          "data": {"name": "cambio"},
          "mark": {"type": "line", "color": "#000", "strokeWidth": 2.2},
          "encoding": {
            "x": {"field": "hora", "type": "temporal"},
            "y": {"field": "cambio", "type": "quantitative"}
          }
        },
        {
          "data": {"name": "cambio_notas"},
          "mark": {"type": "point", "filled": true, "fill": "white", "stroke": "#888", "strokeWidth": 0.8, "size": 14, "opacity": 1},
          "encoding": {
            "x": {"field": "hora", "type": "temporal"},
            "y": {"field": "cambio", "type": "quantitative"}
          }
        },
        {
          "data": {"name": "cambio_notas"},
          "mark": {"type": "point", "shape": "M-0.771,-0.229L0.771,-0.229A0.229,0.229,0,0,1,0.771,0.229L-0.771,0.229A0.229,0.229,0,0,1,-0.771,-0.229Z", "filled": true, "fill": "#000", "stroke": null, "opacity": 1, "size": 1225, "xOffset": -1.1, "yOffset": -26},
          "encoding": {
            "x": {"field": "hora", "type": "temporal"},
            "y": {"field": "cambio", "type": "quantitative"}
          }
        },
        {
          "data": {"name": "cambio_notas"},
          "mark": {"type": "text", "align": "center", "baseline": "middle", "fontWeight": "bold", "fontSize": 7.3, "dx": -1.1, "dy": -26, "color": "#fff"},
          "encoding": {
            "x": {"field": "hora", "type": "temporal"},
            "y": {"field": "cambio", "type": "quantitative"},
            "text": {"field": "texto"}
          }
        },
        {
          "data": {"name": "cambio_rejilla"},
          "mark": {"type": "text", "align": "left", "baseline": "bottom", "dx": -10, "fontSize": 7, "color": "#333"},
          "encoding": {
            "x": {"datum": {"year": 2001, "month": 9, "date": 16, "hours": 22, "minutes": 50}, "type": "temporal"},
            "y": {"field": "cambio", "type": "quantitative"},
            "text": {"field": "cambio", "type": "quantitative", "format": ".3f"}
          }
        },
        {
          "data": {"name": "cambio_horas"},
          "mark": {"type": "text", "align": "center", "baseline": "top", "dy": 4, "fontSize": 7, "color": "#333"},
          "encoding": {
            "x": {"field": "hora", "type": "temporal"},
            "y": {"datum": 0.916, "type": "quantitative"},
            "text": {"field": "hora", "type": "temporal", "format": "%-H.%M"}
          }
        },
        {
          "data": {"values": [{}]},
          "mark": {"type": "rule", "color": "#222", "strokeWidth": 1.5},
          "encoding": {
            "x": {"datum": {"year": 2001, "month": 9, "date": 16, "hours": 20, "minutes": 50}, "type": "temporal"},
            "x2": {"datum": {"year": 2001, "month": 9, "date": 18, "hours": 21, "minutes": 32}},
            "y": {"datum": 0.91383, "type": "quantitative"}
          }
        },
        {
          "data": {"name": "pie_izquierda"},
          "mark": {"type": "text", "align": "left", "baseline": "alphabetic", "dx": -17, "dy": 22.8, "fontSize": 6, "color": "#333"},
          "encoding": {
            "x": {"datum": {"year": 2001, "month": 9, "date": 16, "hours": 22, "minutes": 50}, "type": "temporal"},
            "y": {"datum": 0.916, "type": "quantitative"},
            "text": {"field": "texto"}
          }
        }
      ]
    },
    {
      "width": 170,
      "height": 130,
      "title": {"text": "■ PRECIO DEL PETRÓLEO", "subtitle": "En dólares", "subtitlePadding": 1.1, "dx": -21.6, "offset": 1.1},
      "layer": [
        {
          "data": {"name": "petroleo_rejilla"},
          "mark": {"type": "rule", "color": "#999999", "strokeWidth": 0.7, "xOffset": -21},
          "encoding": {
            "x": {"datum": {"year": 2001, "month": 9, "date": 17, "hours": 9, "minutes": 0}, "type": "temporal", "axis": null,
              "scale": {"domain": [{"year": 2001, "month": 9, "date": 17, "hours": 9, "minutes": 0}, {"year": 2001, "month": 9, "date": 17, "hours": 19, "minutes": 0}]}},
            "x2": {"datum": {"year": 2001, "month": 9, "date": 17, "hours": 19, "minutes": 0}},
            "y": {"field": "precio", "type": "quantitative", "axis": null, "scale": {"domain": [28.2, 29.815]}}
          }
        },
        {
          "data": {"name": "petroleo"},
          "mark": {"type": "area", "color": "white", "fill": "white", "opacity": 1, "fillOpacity": 1, "orient": "vertical"},
          "encoding": {
            "x": {"field": "hora", "type": "temporal"},
            "y": {"field": "precio", "type": "quantitative", "stack": null},
            "y2": {"datum": 29.815}
          }
        },
        {
          "data": {"name": "petroleo_marcas"},
          "mark": {"type": "rule", "color": "#999999", "strokeWidth": 0.7},
          "encoding": {
            "x": {"field": "hora", "type": "temporal"},
            "y": {"field": "precio", "type": "quantitative"},
            "y2": {"datum": 28.2}
          }
        },
        {
          "data": {"name": "petroleo"},
          "mark": {"type": "line", "color": "#000", "strokeWidth": 2.2},
          "encoding": {
            "x": {"field": "hora", "type": "temporal"},
            "y": {"field": "precio", "type": "quantitative"}
          }
        },
        {
          "data": {"name": "petroleo_notas"},
          "mark": {"type": "point", "filled": true, "fill": "white", "stroke": "#888", "strokeWidth": 0.8, "size": 14, "opacity": 1},
          "encoding": {
            "x": {"field": "hora", "type": "temporal"},
            "y": {"field": "precio", "type": "quantitative"}
          }
        },
        {
          "data": {"name": "petroleo_notas"},
          "mark": {"type": "point", "shape": "M-0.636,-0.364L0.636,-0.364A0.364,0.364,0,0,1,0.636,0.364L-0.636,0.364A0.364,0.364,0,0,1,-0.636,-0.364Z", "filled": true, "fill": "#000", "stroke": null, "opacity": 1, "size": 484, "xOffset": -1.1, "yOffset": 15.4},
          "encoding": {
            "x": {"field": "hora", "type": "temporal"},
            "y": {"field": "precio", "type": "quantitative"}
          }
        },
        {
          "data": {"name": "petroleo_notas"},
          "mark": {"type": "text", "align": "center", "baseline": "middle", "fontWeight": "bold", "fontSize": 7.3, "dx": -1.1, "dy": 15.4, "color": "#fff"},
          "encoding": {
            "x": {"field": "hora", "type": "temporal"},
            "y": {"field": "precio", "type": "quantitative"},
            "text": {"field": "texto"}
          }
        },
        {
          "data": {"name": "petroleo_rejilla"},
          "mark": {"type": "text", "align": "left", "baseline": "bottom", "dx": -20.3, "fontSize": 7, "color": "#333"},
          "encoding": {
            "x": {"datum": {"year": 2001, "month": 9, "date": 17, "hours": 9, "minutes": 0}, "type": "temporal"},
            "y": {"field": "precio", "type": "quantitative"},
            "text": {"field": "precio", "type": "quantitative", "format": ".1f"}
          }
        },
        {
          "data": {"name": "petroleo_horas"},
          "mark": {"type": "text", "align": "center", "baseline": "top", "dy": 4, "fontSize": 7, "color": "#333"},
          "encoding": {
            "x": {"field": "hora", "type": "temporal"},
            "y": {"datum": 28.2, "type": "quantitative"},
            "text": {"field": "hora", "type": "temporal", "format": "%-H.%M"}
          }
        },
        {
          "data": {"name": "pie_derecha"},
          "mark": {"type": "text", "align": "right", "baseline": "alphabetic", "dx": 4.7, "dy": 23.6, "fontSize": 5, "color": "#333"},
          "encoding": {
            "x": {"datum": {"year": 2001, "month": 9, "date": 17, "hours": 19, "minutes": 0}, "type": "temporal"},
            "y": {"datum": 28.2, "type": "quantitative"},
            "text": {"field": "texto"}
          }
        }
      ]
    }
  ]
}
